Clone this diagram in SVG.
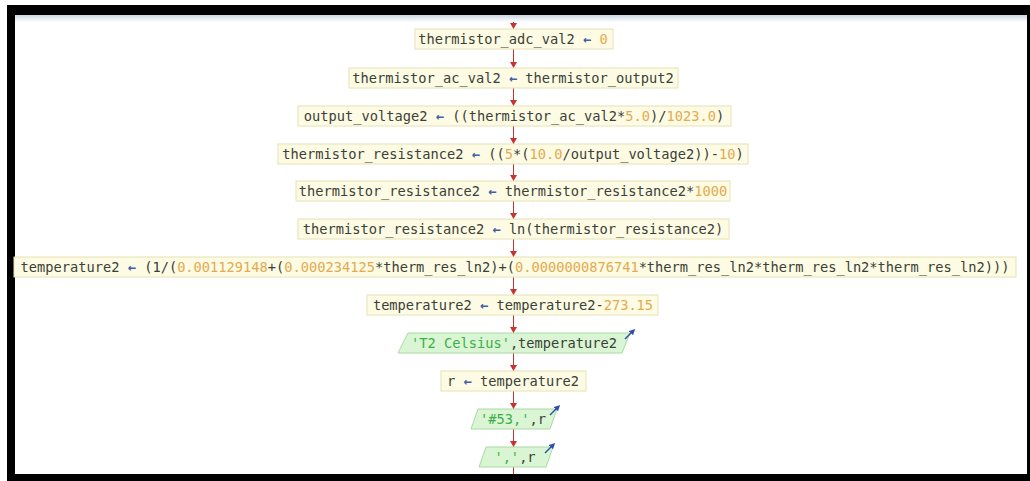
<svg xmlns="http://www.w3.org/2000/svg" width="1030" height="481" viewBox="0 0 1030 481">
<defs>
<linearGradient id="band" x1="0" y1="0" x2="0" y2="1">
<stop offset="0" stop-color="#c9d6e3"/>
<stop offset="1" stop-color="#ffffff"/>
</linearGradient>
<marker id="ah" viewBox="0 0 6 7" refX="6" refY="3.5" markerWidth="6" markerHeight="7" orient="auto" markerUnits="userSpaceOnUse">
<path d="M0,0 L6,3.5 L0,7 Z" fill="#c8322f"/>
</marker>
<marker id="io" viewBox="0 0 6 6" refX="3" refY="3" markerWidth="6" markerHeight="6" orient="auto" markerUnits="userSpaceOnUse">
<path d="M0,0 L6,3 L0,6 Z" fill="#2f4fa8"/>
</marker>
</defs>
<style>
.proc{fill:#fdfbe3;stroke:#e6e2b4;stroke-width:1}
.io{fill:#d9f5d3;stroke:#a9d9a2;stroke-width:1}
.t{font-family:"DejaVu Sans Mono","Liberation Mono",monospace;font-size:13.7px;fill:#3b4138;text-anchor:middle}
.n{fill:#e3aa50}
.a{fill:#3f5fa8;font-weight:bold}
.s{fill:#3fae4a}
.c{stroke:#c8322f;stroke-width:1;fill:none}
.ic{stroke:#2f4fa8;stroke-width:1.5;fill:none}
</style>
<rect x="0" y="0" width="1030" height="481" fill="#ffffff"/>
<rect x="15" y="15" width="1012" height="7" fill="url(#band)"/>
<g id="frame" fill="#000000">
<rect x="7" y="5" width="1023" height="10"/>
<rect x="7" y="5" width="8" height="476"/>
<rect x="1027" y="5" width="3" height="476"/>
<rect x="7" y="474" width="1023" height="7"/>
</g>
<g id="connectors">
<line class="c" x1="513.5" y1="22" x2="513.5" y2="29" marker-end="url(#ah)"/>
<line class="c" x1="513.5" y1="49" x2="513.5" y2="68" marker-end="url(#ah)"/>
<line class="c" x1="513.5" y1="88" x2="513.5" y2="106" marker-end="url(#ah)"/>
<line class="c" x1="513.5" y1="126" x2="513.5" y2="144" marker-end="url(#ah)"/>
<line class="c" x1="513.5" y1="164" x2="513.5" y2="181" marker-end="url(#ah)"/>
<line class="c" x1="513.5" y1="201" x2="513.5" y2="219" marker-end="url(#ah)"/>
<line class="c" x1="513.5" y1="239" x2="513.5" y2="257" marker-end="url(#ah)"/>
<line class="c" x1="513.5" y1="277" x2="513.5" y2="295" marker-end="url(#ah)"/>
<line class="c" x1="513.5" y1="315" x2="513.5" y2="333" marker-end="url(#ah)"/>
<line class="c" x1="513.5" y1="353" x2="513.5" y2="371" marker-end="url(#ah)"/>
<line class="c" x1="513.5" y1="391" x2="513.5" y2="409" marker-end="url(#ah)"/>
<line class="c" x1="513.5" y1="429" x2="513.5" y2="447" marker-end="url(#ah)"/>
<line class="c" x1="513.5" y1="467" x2="513.5" y2="474"/>
</g>
<g id="n1">
<rect class="proc" x="415" y="29" width="198" height="20"/>
<text class="t" x="513" y="43.5">thermistor_adc_val2 <tspan class="a">←</tspan> <tspan class="n">0</tspan></text>
</g>
<g id="n2">
<rect class="proc" x="349" y="68" width="329" height="20"/>
<text class="t" x="513" y="82.5">thermistor_ac_val2 <tspan class="a">←</tspan> thermistor_output2</text>
</g>
<g id="n3">
<rect class="proc" x="298" y="106" width="433" height="20"/>
<text class="t" x="514" y="120.5">output_voltage2 <tspan class="a">←</tspan> ((thermistor_ac_val2*<tspan class="n">5.0</tspan>)/<tspan class="n">1023.0</tspan>)</text>
</g>
<g id="n4">
<rect class="proc" x="278" y="144" width="470" height="20"/>
<text class="t" x="513" y="158.5">thermistor_resistance2 <tspan class="a">←</tspan> ((<tspan class="n">5</tspan>*(<tspan class="n">10.0</tspan>/output_voltage2))-<tspan class="n">10</tspan>)</text>
</g>
<g id="n5">
<rect class="proc" x="296" y="181" width="434" height="20"/>
<text class="t" x="513" y="195.5">thermistor_resistance2 <tspan class="a">←</tspan> thermistor_resistance2*<tspan class="n">1000</tspan></text>
</g>
<g id="n6">
<rect class="proc" x="298" y="219" width="431" height="20"/>
<text class="t" x="513" y="233.5">thermistor_resistance2 <tspan class="a">←</tspan> ln(thermistor_resistance2)</text>
</g>
<g id="n7">
<rect class="proc" x="14" y="257" width="1002" height="20"/>
<text class="t" x="515" y="271.5">temperature2 <tspan class="a">←</tspan> (1/(<tspan class="n">0.001129148</tspan>+(<tspan class="n">0.000234125</tspan>*therm_res_ln2)+(<tspan class="n">0.0000000876741</tspan>*therm_res_ln2*therm_res_ln2*therm_res_ln2)))</text>
</g>
<g id="n8">
<rect class="proc" x="367" y="295" width="291" height="20"/>
<text class="t" x="513" y="309.5">temperature2 <tspan class="a">←</tspan> temperature2-<tspan class="n">273.15</tspan></text>
</g>
<g id="n9">
<polygon class="io" points="408,333 630,333 622,353 398,353"/>
<text class="t" x="514" y="347.5"><tspan class="s">'T2 Celsius'</tspan>,temperature2</text>
<line class="ic" x1="625" y1="339" x2="633" y2="331" marker-end="url(#io)"/>
</g>
<g id="n10">
<rect class="proc" x="441" y="371" width="145" height="20"/>
<text class="t" x="513" y="385.5">r <tspan class="a">←</tspan> temperature2</text>
</g>
<g id="n11">
<polygon class="io" points="478,409 557,409 550,429 471,429"/>
<text class="t" x="513" y="423.5"><tspan class="s">'#53,'</tspan>,r</text>
<line class="ic" x1="550" y1="415" x2="558" y2="407" marker-end="url(#io)"/>
</g>
<g id="n12">
<polygon class="io" points="486,447 553,447 546,467 479,467"/>
<text class="t" x="515" y="461.5"><tspan class="s">','</tspan>,r</text>
<line class="ic" x1="545" y1="453" x2="553" y2="445" marker-end="url(#io)"/>
</g>
</svg>
